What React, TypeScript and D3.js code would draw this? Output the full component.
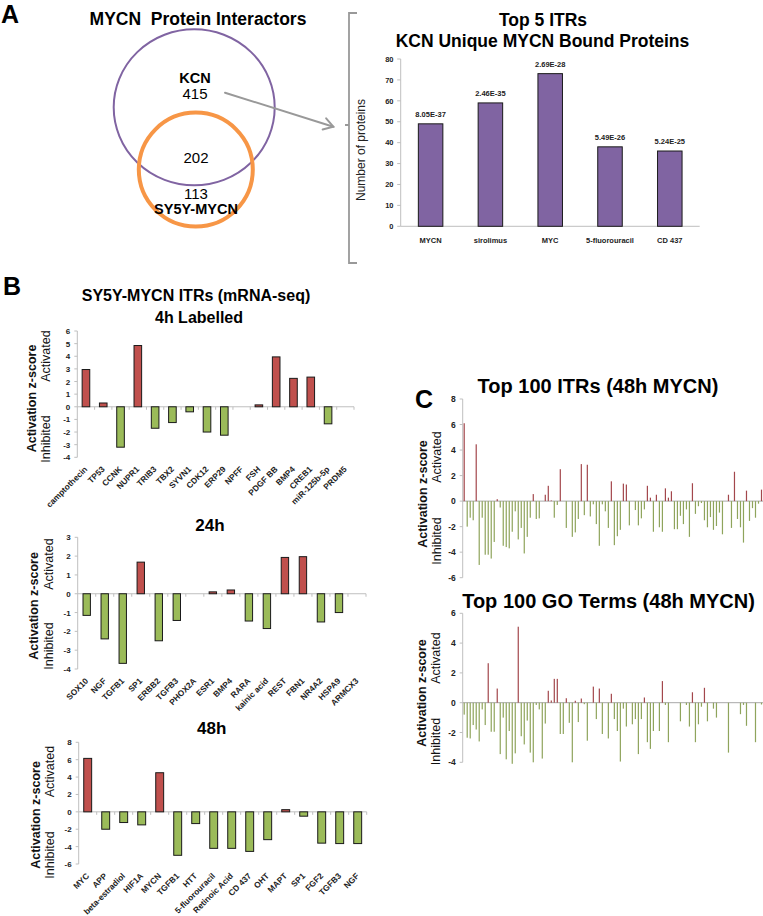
import React from "react";
import * as d3 from "d3";

const FONT = "'Liberation Sans', Arial, Helvetica, sans-serif";

// ---------- Panel A : Venn ----------
const vennSetNames = ["KCN", "SY5Y-MYCN"];
const vennCounts = [415, 202, 113]; // KCN only, shared, SY5Y-MYCN only

// ---------- Panel A : Top 5 ITRs ----------
const topItrNames = ["MYCN", "sirolimus", "MYC", "5-fluorouracil", "CD 437"];
const topItrCounts = [49, 59, 73, 38, 36];
const topItrPValues = ["8.05E-37", "2.46E-35", "2.69E-28", "5.49E-26", "5.24E-25"];
const topItrTicks = [0, 10, 20, 30, 40, 50, 60, 70, 80];

// ---------- Panel B ----------
const itr4hNames = ["camptothecin", "TP53", "CCNK", "NUPR1", "TRIB3", "TBX2", "SYVN1", "CDK12", "ERP29", "NPFF", "FSH", "PDGF BB", "BMP4", "CREB1", "miR-125b-5p", "PRDM5"];
const itr4hZ = [2.95, 0.3, -3.2, 4.85, -1.7, -1.25, -0.4, -2.0, -2.25, 0, 0.15, 3.95, 2.25, 2.35, -1.35, 0];
const ticks4h = [-4, -3, -2, -1, 0, 1, 2, 3, 4, 5, 6];

const itr24hNames = ["SOX10", "NGF", "TGFB1", "SP1", "ERBB2", "TGFB3", "PHOX2A", "ESR1", "BMP4", "RARA", "kainic acid", "REST", "FBN1", "NR4A2", "HSPA9", "ARMCX3"];
const itr24hZ = [-1.15, -2.4, -3.7, 1.68, -2.5, -1.42, 0, 0.1, 0.2, -1.45, -1.85, 1.93, 1.97, -1.5, -1.0, 0];
const ticks24h = [-4, -3, -2, -1, 0, 1, 2, 3];

const itr48hNames = ["MYC", "APP", "beta-estradiol", "HIF1A", "MYCN", "TGFB1", "HTT", "5-fluorouracil", "Retinoic Acid", "CD 437", "OHT", "MAPT", "SP1", "FGF2", "TGFB3", "NGF"];
const itr48hZ = [6.15, -2.0, -1.23, -1.5, 4.5, -5.0, -1.35, -4.2, -4.2, -4.55, -3.2, 0.25, -0.5, -3.6, -3.65, -3.65];
const ticks48h = [-6, -4, -2, 0, 2, 4, 6, 8];

// ---------- Panel C ----------
const itr100Z = [
  6.1, -2.0, -1.3, -1.5, 4.45, -5.0, -1.3, -4.2, -4.2, -4.5,
  -3.2, 0.15, -0.5, -3.5, -3.6, -3.7, -2.4, -0.8, -3.0, -2.1,
  -4.1, -2.8, -1.3, 0.55, -1.4, -1.35, 0, 0.5, 1.2, 0.05,
  -1.3, -0.3, 2.5, 0, -2.1, 0, -2.8, -2.45, -1.4, 2.9,
  -1.1, 2.85, -1.2, -0.25, -1.8, -3.5, -0.25, -0.8, -2.1, 1.55,
  -3.45, -2.75, -2.25, 1.37, 1.3, -1.9, 0, -0.7, -1.9, -1.35,
  -0.65, 1.2, 0.27, -2.4, 0.5, -2.05, -2.4, 1.0, 0.27, 0.77,
  -2.2, -2.2, -1.15, -1.8, -0.65, -2.8, 1.4, -1.0, -0.4, -0.15,
  -1.5, -2.05, -1.25, -2.25, -1.95, -0.9, -2.6, 0, 0.5, -2.1,
  2.3, -1.4, -2.05, -3.25, 0.82, -1.55, -0.55, -1.3, -0.2, 0.9,
];
const ticksC1 = [-6, -4, -2, 0, 2, 4, 6, 8];

const go100Z = [
  -0.8, -2.35, -2.4, -1.5, -1.8, -2.6, -0.45, -1.5, 2.65, -1.95,
  -1.95, 0.95, -3.45, -1.0, -3.8, -1.9, -4.1, -3.4, 5.1, -2.25,
  -2.8, -1.2, -3.35, -4.0, -0.15, -0.45, -3.75, -1.4, 0.8, 0.15,
  1.6, 1.6, -2.1, -2.1, 0.3, -1.35, -4.0, 0.13, -1.3, 0.28,
  -0.1, -2.55, 0, 1.08, -1.1, 0.95, -2.1, 0, -2.4, 0.6,
  -1.1, -1.9, -3.95, -0.4, -1.6, 0, -1.45, -1.1, -3.45, -1.1,
  0.35, -2.65, -3.1, -1.9, 0, -1.9, 1.45, -0.15, -2.65, 0,
  0, 0, -1.25, 0, -0.15, -1.6, 0.7, -2.65, -1.45, -0.27,
  1.0, -1.25, 0, -0.4, -1.0, 0, 0, 0, -3.35, 0,
  0, 0, -0.77, -0.15, -1.55, 0, 0, -2.65, 0, -0.12,
];
const ticksC2 = [-4, -2, 0, 2, 4, 6];

type ZChartProps = {
  names?: string[];
  values: number[];
  ticks: number[];
  x0: number;
  x1: number;
  yTop: number;
  yBottom: number;
  barFrac: number;
  thin?: boolean;
  axisTitle: { ax: number; ay: number; bx: number; by: number; ix: number; iy: number; size: number };
};

function ZChart(p: ZChartProps) {
  const [lo, hi] = d3.extent(p.ticks) as [number, number];
  const y = d3.scaleLinear().domain([lo, hi]).range([p.yBottom, p.yTop]);
  const keys = p.values.map((_, i) => String(i));
  const x = d3
    .scaleBand<string>()
    .domain(keys)
    .range([p.x0, p.x1])
    .paddingInner(1 - p.barFrac)
    .paddingOuter((1 - p.barFrac) / 2);
  const step = x.step();
  const y0 = y(0);
  const red = p.thin ? "#A3474C" : "#C0504D";
  const green = p.thin ? "#8FA45C" : "#9BBB59";
  const t = p.axisTitle;
  return (
    <g>
      {/* y axis */}
      <line x1={p.x0} x2={p.x0} y1={p.yTop} y2={p.yBottom} stroke="#BFBFBF" strokeWidth={1} />
      {p.ticks.map((tk) => (
        <g key={tk}>
          <line x1={p.x0 - 3} x2={p.x0} y1={y(tk)} y2={y(tk)} stroke="#BFBFBF" strokeWidth={1} />
          <text
            x={p.x0 - 7}
            y={y(tk) + 3}
            textAnchor="end"
            fontSize={p.thin ? 8.5 : 8}
            fontWeight="bold"
            fill="#222"
            fontFamily={FONT}
          >
            {tk}
          </text>
        </g>
      ))}
      {/* zero line */}
      <line x1={p.x0} x2={p.x1} y1={y0} y2={y0} stroke={p.thin ? "#A8A8A8" : "#BFBFBF"} strokeWidth={1} />
      {!p.thin &&
        keys.map((k, i) => (
          <line key={"t" + k} x1={p.x0 + step * (i + 1)} x2={p.x0 + step * (i + 1)} y1={y0} y2={y0 + 3} stroke="#BFBFBF" />
        ))}
      {/* bars */}
      {p.values.map((v, i) =>
        v === 0 ? null : (
          <rect
            key={i}
            x={x(keys[i])}
            width={x.bandwidth()}
            y={Math.min(y(v), y0)}
            height={Math.abs(y(v) - y0)}
            fill={v > 0 ? red : green}
            stroke={p.thin ? "none" : "#1a1a1a"}
            strokeWidth={p.thin ? 0 : 1}
          />
        )
      )}
      {/* category labels */}
      {p.names &&
        p.names.map((n, i) => {
          const cx = (x(keys[i]) as number) + x.bandwidth() / 2 + 2;
          const cy = p.yBottom + 12.5;
          return (
            <text
              key={"l" + i}
              x={cx}
              y={cy}
              transform={`rotate(-45 ${cx} ${cy})`}
              textAnchor="end"
              fontSize={8.3}
              fontWeight="bold"
              fill="#222"
              fontFamily={FONT}
            >
              {n}
            </text>
          );
        })}
      {/* axis titles */}
      <text
        x={t.ax}
        y={t.ay}
        transform={`rotate(-90 ${t.ax} ${t.ay})`}
        textAnchor="middle"
        fontSize={t.size}
        fontWeight="bold"
        fill="#111"
        fontFamily={FONT}
      >
        Activation z-score
      </text>
      <text
        x={t.bx}
        y={t.by}
        transform={`rotate(-90 ${t.bx} ${t.by})`}
        textAnchor="middle"
        fontSize={t.size}
        fill="#111"
        fontFamily={FONT}
      >
        Activated
      </text>
      <text
        x={t.ix}
        y={t.iy}
        transform={`rotate(-90 ${t.ix} ${t.iy})`}
        textAnchor="middle"
        fontSize={t.size}
        fill="#111"
        fontFamily={FONT}
      >
        Inhibited
      </text>
    </g>
  );
}

function Venn() {
  return (
    <g fontFamily={FONT}>
      <text x={198} y={25} textAnchor="middle" fontSize={17.5} fontWeight="bold" style={{ whiteSpace: "pre" }}>
        {"MYCN  Protein Interactors"}
      </text>
      <ellipse cx={194.2} cy={107.3} rx={80.5} ry={78} fill="none" stroke="#8064A2" strokeWidth={2} />
      <circle cx={195.8} cy={169.6} r={57} fill="none" stroke="#F79646" strokeWidth={4} />
      <text x={195} y={82.7} textAnchor="middle" fontSize={14.5} fontWeight="bold">
        {vennSetNames[0]}
      </text>
      <text x={195} y={98.5} textAnchor="middle" fontSize={15}>
        {vennCounts[0]}
      </text>
      <text x={196} y={163} textAnchor="middle" fontSize={15}>
        {vennCounts[1]}
      </text>
      <text x={196} y={199} textAnchor="middle" fontSize={15}>
        {vennCounts[2]}
      </text>
      <text x={196} y={213.5} textAnchor="middle" fontSize={14.5} fontWeight="bold">
        {vennSetNames[1]}
      </text>
    </g>
  );
}

function Arrow() {
  const sx = 225, sy = 92.7, tx = 333.3, ty = 126.7;
  const ang = Math.atan2(ty - sy, tx - sx);
  const L = 11, w = (32 * Math.PI) / 180;
  const p1 = [tx - L * Math.cos(ang - w), ty - L * Math.sin(ang - w)];
  const p2 = [tx - L * Math.cos(ang + w), ty - L * Math.sin(ang + w)];
  return (
    <g stroke="#999" strokeWidth={2} fill="none" strokeLinecap="round">
      <line x1={sx} y1={sy} x2={tx} y2={ty} />
      <polyline points={`${p1[0]},${p1[1]} ${tx},${ty} ${p2[0]},${p2[1]}`} />
      <path d="M357,13 H349 V263 H357 M349,125 H345" strokeWidth={1.8} strokeLinecap="butt" />
    </g>
  );
}

function TopItrChart() {
  const x0 = 400.7, x1 = 699.7, yTop = 59, yBottom = 226.3;
  const y = d3.scaleLinear().domain([0, 80]).range([yBottom, yTop]);
  const x = d3.scaleBand<string>().domain(topItrNames).range([x0, x1]).paddingInner(0.59).paddingOuter(0.295);
  return (
    <g fontFamily={FONT}>
      <text x={543} y={26} textAnchor="middle" fontSize={17.5} fontWeight="bold">
        Top 5 ITRs
      </text>
      <text x={542.5} y={46.7} textAnchor="middle" fontSize={17.5} fontWeight="bold">
        KCN Unique MYCN Bound Proteins
      </text>
      <line x1={x0} x2={x0} y1={yTop} y2={yBottom} stroke="#BFBFBF" />
      {topItrTicks.map((t) => (
        <g key={t}>
          <line x1={x0 - 3.5} x2={x0} y1={y(t)} y2={y(t)} stroke="#BFBFBF" />
          <text x={393.5} y={y(t) + 2.7} textAnchor="end" fontSize={7.5} fontWeight="bold" fill="#222">
            {t}
          </text>
        </g>
      ))}
      <line x1={x0} x2={x1} y1={yBottom} y2={yBottom} stroke="#BFBFBF" />
      {topItrNames.map((n, i) => {
        const bx = x(n) as number;
        const cx = bx + x.bandwidth() / 2;
        return (
          <g key={n}>
            <rect
              x={bx}
              y={y(topItrCounts[i])}
              width={x.bandwidth()}
              height={yBottom - y(topItrCounts[i])}
              fill="#8064A2"
              stroke="#1a1a1a"
              strokeWidth={1}
            />
            <text x={cx} y={y(topItrCounts[i]) - 7} textAnchor="middle" fontSize={7.5} fontWeight="bold" fill="#222">
              {topItrPValues[i]}
            </text>
            <text x={cx} y={242.5} textAnchor="middle" fontSize={7.5} fontWeight="bold" fill="#222">
              {n}
            </text>
          </g>
        );
      })}
      <text
        x={365}
        y={150}
        transform="rotate(-90 365 150)"
        textAnchor="middle"
        fontSize={12}
        fill="#222"
      >
        Number of proteins
      </text>
    </g>
  );
}

export default function App() {
  return (
    <svg
      width={763}
      height={916}
      viewBox="0 0 763 916"
      style={{ position: "absolute", left: 0, top: 0, background: "#fff" }}
      fontFamily={FONT}
    >
      <rect x={0} y={0} width={763} height={916} fill="#fff" />
      {/* panel letters */}
      <text x={1} y={22.5} fontSize={25} fontWeight="bold">A</text>
      <text x={3} y={295} fontSize={25} fontWeight="bold">B</text>
      <text x={415} y={408} fontSize={25} fontWeight="bold">C</text>

      <Venn />
      <Arrow />
      <TopItrChart />

      {/* Panel B titles */}
      <text x={196} y={301} textAnchor="middle" fontSize={16} fontWeight="bold">
        SY5Y-MYCN ITRs (mRNA-seq)
      </text>
      <text x={199} y={323.3} textAnchor="middle" fontSize={16} fontWeight="bold">
        4h Labelled
      </text>
      <ZChart
        names={itr4hNames}
        values={itr4hZ}
        ticks={ticks4h}
        x0={77.3}
        x1={354}
        yTop={331}
        yBottom={457.3}
        barFrac={0.44}
        axisTitle={{ ax: 35.5, ay: 398.5, bx: 49.5, by: 356, ix: 49.5, iy: 439, size: 12.5 }}
      />
      <text x={210} y={531} textAnchor="middle" fontSize={17} fontWeight="bold">
        24h
      </text>
      <ZChart
        names={itr24hNames}
        values={itr24hZ}
        ticks={ticks24h}
        x0={77.7}
        x1={366}
        yTop={537.3}
        yBottom={669}
        barFrac={0.41}
        axisTitle={{ ax: 38, ay: 606, bx: 52.5, by: 564, ix: 52.5, iy: 646, size: 12.5 }}
      />
      <text x={211.7} y={734} textAnchor="middle" fontSize={17} fontWeight="bold">
        48h
      </text>
      <ZChart
        names={itr48hNames}
        values={itr48hZ}
        ticks={ticks48h}
        x0={78.7}
        x1={366.7}
        yTop={742.3}
        yBottom={864}
        barFrac={0.44}
        axisTitle={{ ax: 39.5, ay: 815, bx: 53.5, by: 771.5, ix: 53.5, iy: 855, size: 12.5 }}
      />

      {/* Panel C */}
      <text x={598} y={393} textAnchor="middle" fontSize={20} fontWeight="bold">
        Top 100 ITRs (48h MYCN)
      </text>
      <ZChart
        values={itr100Z}
        ticks={ticksC1}
        x0={462.7}
        x1={763}
        yTop={399}
        yBottom={577.7}
        barFrac={0.4}
        thin
        axisTitle={{ ax: 426.5, ay: 494, bx: 440.5, by: 457, ix: 440.5, iy: 541, size: 12.5 }}
      />
      <text x={608.5} y={607.7} textAnchor="middle" fontSize={20} fontWeight="bold">
        Top 100 GO Terms (48h MYCN)
      </text>
      <ZChart
        values={go100Z}
        ticks={ticksC2}
        x0={462.7}
        x1={763}
        yTop={613.3}
        yBottom={762.3}
        barFrac={0.4}
        thin
        axisTitle={{ ax: 426, ay: 693, bx: 440, by: 658, ix: 440, iy: 741.5, size: 12.5 }}
      />
    </svg>
  );
}
